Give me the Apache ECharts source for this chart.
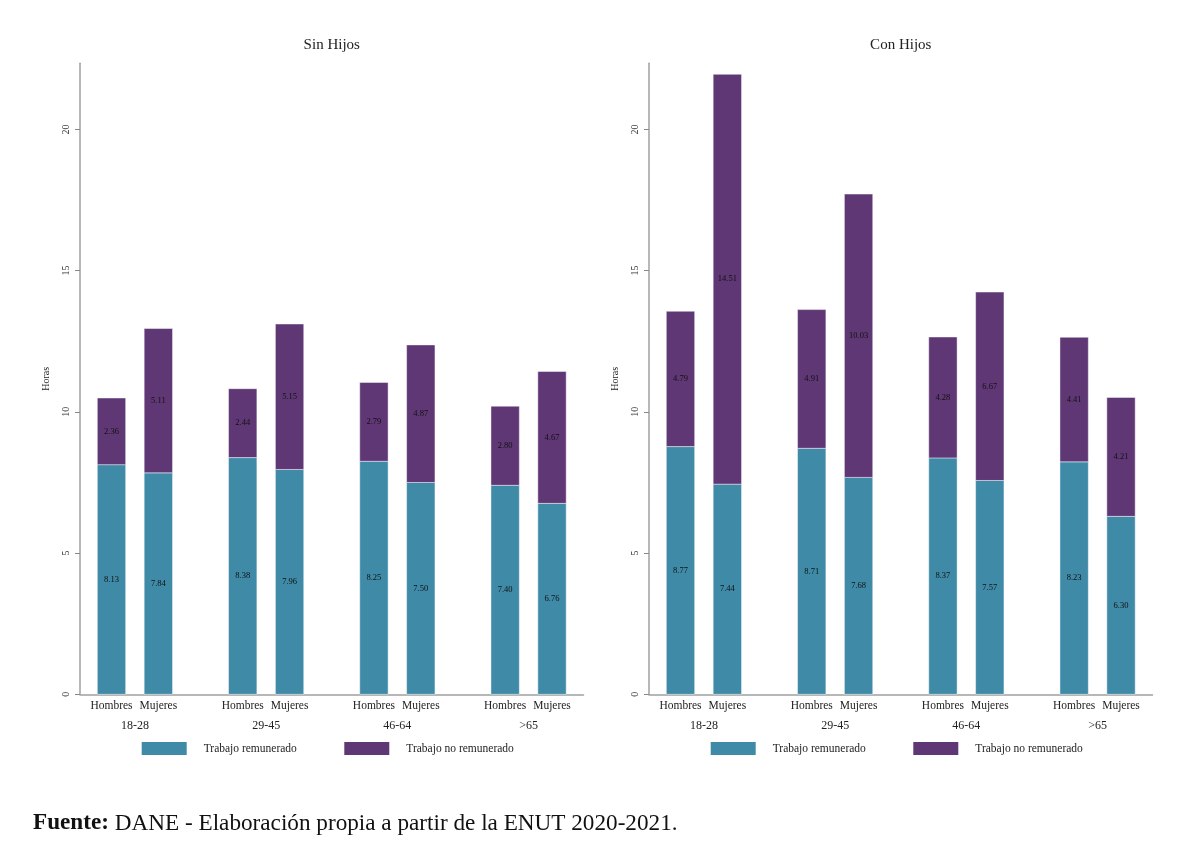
<!DOCTYPE html>
<html>
<head>
<meta charset="utf-8">
<script src="https://cdn.jsdelivr.net/npm/echarts@6/dist/echarts.min.js"></script>
<style>
html,body{margin:0;padding:0;background:#fff;}
#chart{width:1183px;height:853px;}
</style>
</head>
<body>
<div id="chart"></div>
<script>
// ---- data ----
const ageGroups = ['18-28', '29-45', '46-64', '>65'];
const sexes = ['Hombres', 'Mujeres'];
const yTicks = [0, 5, 10, 15, 20];
const panelTitles = ['Sin Hijos', 'Con Hijos'];
const seriesNames = ['Trabajo remunerado', 'Trabajo no remunerado'];
// order: 18-28 H, 18-28 M, 29-45 H, 29-45 M, 46-64 H, 46-64 M, >65 H, >65 M
const sinRem   = [8.13, 7.84, 8.38, 7.96, 8.25, 7.50, 7.40, 6.76];
const sinNoRem = [2.36, 5.11, 2.44, 5.15, 2.79, 4.87, 2.80, 4.67];
const conRem   = [8.77, 7.44, 8.71, 7.68, 8.37, 7.57, 8.23, 6.30];
const conNoRem = [4.79, 14.51, 4.91, 10.03, 4.28, 6.67, 4.41, 4.21];

// ---- layout ----
const FONT = "'Liberation Serif', 'DejaVu Serif', serif";
const TEAL = '#3f8aa7';
const PURPLE = '#5f3775';
const GROUP_PITCH = 2.8;
const BAR_W = 0.605;
const X_MIN = -0.672, X_MAX = 10.072;
const Y_MAX = 22.34;
const barPos = [];
ageGroups.forEach((g, gi) => sexes.forEach((s, si) => barPos.push(+(gi * GROUP_PITCH + si).toFixed(4))));
const groupPos = ageGroups.map((g, gi) => +(gi * GROUP_PITCH + 0.5).toFixed(4));
const findIdx = (arr, v) => arr.findIndex(p => Math.abs(p - v) < 1e-6);

const gridLefts = [80, 649];
const GRID_W = 503.5, GRID_TOP = 63.3, GRID_H = 631;

function segData(base, vals) {
  return vals.map((v, i) => [barPos[i], base ? base[i] : 0, (base ? base[i] : 0) + v, v]);
}

function renderSeg(params, api) {
  const x = api.value(0), y0 = api.value(1), y1 = api.value(2), v = api.value(3);
  const p0 = api.coord([x, y0]);
  const p1 = api.coord([x, y1]);
  const w = api.size([BAR_W, 0])[0];
  const color = api.visual('color');
  return {
    type: 'group',
    children: [
      { type: 'rect',
        shape: { x: p0[0] - w / 2, y: p1[1], width: w, height: p0[1] - p1[1] },
        style: { fill: color, stroke: 'rgba(255,255,255,0.45)', lineWidth: 1 } },
      { type: 'text', x: p0[0], y: (p0[1] + p1[1]) / 2,
        style: { text: v.toFixed(2), fill: '#111', font: '8.5px ' + FONT, align: 'center', verticalAlign: 'middle' } }
    ]
  };
}

const grids = [], xAxes = [], yAxes = [], series = [], titles = [], legends = [];
const panelData = [[sinRem, sinNoRem], [conRem, conNoRem]];

panelData.forEach((pd, pi) => {
  const left = gridLefts[pi];
  grids.push({ left: left, top: GRID_TOP, width: GRID_W, height: GRID_H });
  // bar labels axis
  xAxes.push({
    type: 'value', gridIndex: pi, min: X_MIN, max: X_MAX, position: 'bottom',
    axisLine: { show: true, onZero: false, lineStyle: { color: '#a0a0a0', width: 1.5 } },
    axisTick: { show: false }, splitLine: { show: false },
    axisLabel: { customValues: barPos, margin: 6, color: '#222', fontFamily: FONT, fontSize: 11.5,
      formatter: v => { const i = findIdx(barPos, v); return i < 0 ? '' : sexes[i % 2]; } }
  });
  // group labels axis
  xAxes.push({
    type: 'value', gridIndex: pi, min: X_MIN, max: X_MAX, position: 'bottom', offset: 20,
    axisLine: { show: false, onZero: false }, axisTick: { show: false }, splitLine: { show: false },
    axisLabel: { customValues: groupPos, margin: 6, color: '#222', fontFamily: FONT, fontSize: 12,
      formatter: v => { const i = findIdx(groupPos, v); return i < 0 ? '' : ageGroups[i]; } }
  });
  yAxes.push({
    type: 'value', gridIndex: pi, min: 0, max: Y_MAX, position: 'left',
    name: 'Horas', nameLocation: 'middle', nameGap: 29,
    nameTextStyle: { fontFamily: FONT, fontSize: 10, color: '#222' },
    axisLine: { show: true, onZero: false, lineStyle: { color: '#a0a0a0', width: 1.5 } },
    axisTick: { show: true, length: 5, customValues: yTicks, lineStyle: { color: '#888' } },
    splitLine: { show: false },
    axisLabel: { customValues: yTicks, rotate: 90, margin: 9, color: '#333', fontFamily: FONT, fontSize: 10 }
  });
  series.push({
    type: 'custom', name: seriesNames[0], xAxisIndex: pi * 2, yAxisIndex: pi,
    itemStyle: { color: TEAL }, renderItem: renderSeg, data: segData(null, pd[0]),
    encode: { x: 0, y: [1, 2] }
  });
  series.push({
    type: 'custom', name: seriesNames[1], xAxisIndex: pi * 2, yAxisIndex: pi,
    itemStyle: { color: PURPLE }, renderItem: renderSeg, data: segData(pd[0], pd[1]),
    encode: { x: 0, y: [1, 2] }
  });
  titles.push({
    text: panelTitles[pi], left: left + GRID_W / 2, top: 38, textAlign: 'center', padding: 0,
    textStyle: { fontFamily: FONT, fontSize: 15, fontWeight: 'normal', color: '#222' }
  });
  const legendOffsets = [61.7, 264.3];
  seriesNames.forEach((n, ni) => {
    legends.push({
      data: [n], left: left + legendOffsets[ni], top: 742, padding: 0,
      itemWidth: 45, itemHeight: 13, icon: 'rect', selectedMode: false,
      textStyle: { fontFamily: FONT, fontSize: 11.5, color: '#222', padding: [0, 0, 0, 12] }
    });
  });
});

titles.push({
  text: '{b|Fuente:} DANE - Elaboración propia a partir de la ENUT 2020-2021.',
  left: 33, top: 812, padding: 0,
  textStyle: { fontFamily: FONT, fontSize: 23.2, fontWeight: 'normal', color: '#111',
    rich: { b: { fontFamily: FONT, fontSize: 23.2, fontWeight: 'bold', color: '#111' } } }
});

const chart = echarts.init(document.getElementById('chart'), null, { renderer: 'canvas' });
chart.setOption({
  backgroundColor: '#fff',
  animation: false,
  title: titles,
  legend: legends,
  grid: grids,
  xAxis: xAxes,
  yAxis: yAxes,
  series: series
});
</script>
</body>
</html>
